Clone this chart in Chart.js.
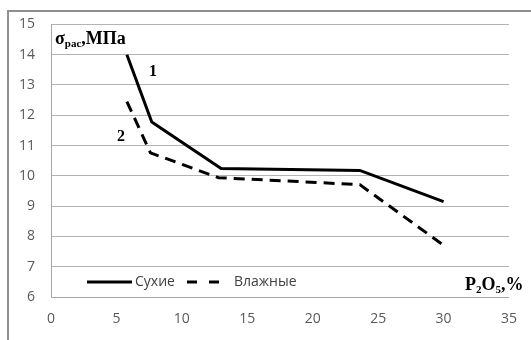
<!DOCTYPE html>
<html>
<head>
<meta charset="utf-8">
<script src="https://cdn.jsdelivr.net/npm/chart.js@4"></script>
<style>
  html, body { margin: 0; padding: 0; background: #fff; }
  #wrap { position: relative; width: 531px; height: 340px; overflow: hidden; }
  #frame { position: absolute; left: 7px; top: 10px; width: 600px; height: 400px;
           border-left: 2px solid #8f8f8f; border-top: 2px solid #8f8f8f; box-sizing: border-box; }
  canvas { position: absolute; left: 0; top: 0; }
</style>
</head>
<body>
<div id="wrap">
  <div id="frame"></div>
  <canvas id="chart" width="531" height="340"></canvas>
</div>
<script>
// Data
const seriesNames = ['Сухие', 'Влажные'];
const dryX = [5.8, 7.7, 13.0, 23.6, 30.0];
const dryY = [14.0, 11.78, 10.24, 10.18, 9.15];
const wetX = [5.8, 7.6, 12.8, 23.6, 29.9];
const wetY = [12.45, 10.76, 9.94, 9.71, 7.74];
const xTicks = [0, 5, 10, 15, 20, 25, 30, 35];
const yTicks = [6, 7, 8, 9, 10, 11, 12, 13, 14, 15];

const toPoints = (xs, ys) => xs.map((x, i) => ({ x: x, y: ys[i] }));

// write a run of [text, font, dy] parts one after another
const drawRun = (ctx, parts, x, y) => {
    parts.forEach(([txt, font, dy]) => {
        ctx.font = font;
        ctx.fillText(txt, x, y + dy);
        x += ctx.measureText(txt).width;
    });
};

// legend drawn inside the plot area, plus the text labels
const overlay = {
    id: 'overlay',
    afterDraw: (chart) => {
        const ctx = chart.ctx;
        ctx.save();

        // legend
        const ly = 282;
        ctx.strokeStyle = '#000';
        ctx.lineWidth = 3;
        ctx.beginPath();
        ctx.moveTo(87, ly);
        ctx.lineTo(132, ly);
        ctx.stroke();
        ctx.setLineDash([10, 12]);
        ctx.beginPath();
        ctx.moveTo(187, ly);
        ctx.lineTo(223, ly);
        ctx.stroke();
        ctx.setLineDash([]);
        ctx.fillStyle = '#404040';
        ctx.font = '14px "Open Sans", sans-serif';
        ctx.textBaseline = 'middle';
        ctx.fillText(chart.data.datasets[0].label, 135, ly);
        ctx.fillText(chart.data.datasets[1].label, 234, ly);

        ctx.fillStyle = '#000';
        ctx.textBaseline = 'alphabetic';
        const big = 'bold 18px "Liberation Serif", serif';
        const sub = 'bold 11px "Liberation Serif", serif';

        // axis title on y
        drawRun(ctx, [['σ', big, 0], ['рас', sub, 3], [',МПа', big, 0]], 55, 44);

        // curve numbers
        ctx.font = 'bold 16px "Liberation Serif", serif';
        ctx.fillText('1', 149, 76);
        ctx.fillText('2', 117, 141);

        // axis title on x
        drawRun(ctx, [['P', big, 0], ['2', sub, 3], ['O', big, 0], ['5', sub, 3], [',%', big, 0]], 465, 290);

        ctx.restore();
    }
};

const tickFont = { family: '"Open Sans", sans-serif', size: 14 };

new Chart(document.getElementById('chart'), {
    type: 'line',
    data: {
        datasets: [
            {
                label: seriesNames[0],
                data: toPoints(dryX, dryY),
                borderColor: '#000',
                borderWidth: 3,
                pointRadius: 0,
                tension: 0
            },
            {
                label: seriesNames[1],
                data: toPoints(wetX, wetY),
                borderColor: '#000',
                borderWidth: 3,
                borderDash: [11, 7],
                pointRadius: 0,
                tension: 0
            }
        ]
    },
    options: {
        responsive: false,
        animation: false,
        layout: { padding: { left: 0, right: 15, top: 23, bottom: 0 } },
        scales: {
            x: {
                type: 'linear',
                min: 0,
                max: 35,
                afterBuildTicks: (axis) => { axis.ticks = xTicks.map(v => ({ value: v })); },
                afterFit: (axis) => { axis.height = 43; },
                grid: { display: false, drawTicks: false },
                border: { display: true, color: '#a6a6a6', width: 1 },
                ticks: { color: '#595959', font: tickFont, padding: 14 }
            },
            y: {
                min: 6,
                max: 15,
                afterBuildTicks: (axis) => { axis.ticks = yTicks.map(v => ({ value: v })); },
                afterFit: (axis) => { axis.width = 51; },
                grid: { color: '#b3b3b3', lineWidth: 1, drawTicks: false },
                border: { display: true, color: '#a6a6a6', width: 1 },
                ticks: { color: '#595959', font: tickFont, padding: 16 }
            }
        },
        plugins: {
            legend: { display: false },
            tooltip: { enabled: false }
        }
    },
    plugins: [overlay]
});
</script>
</body>
</html>
